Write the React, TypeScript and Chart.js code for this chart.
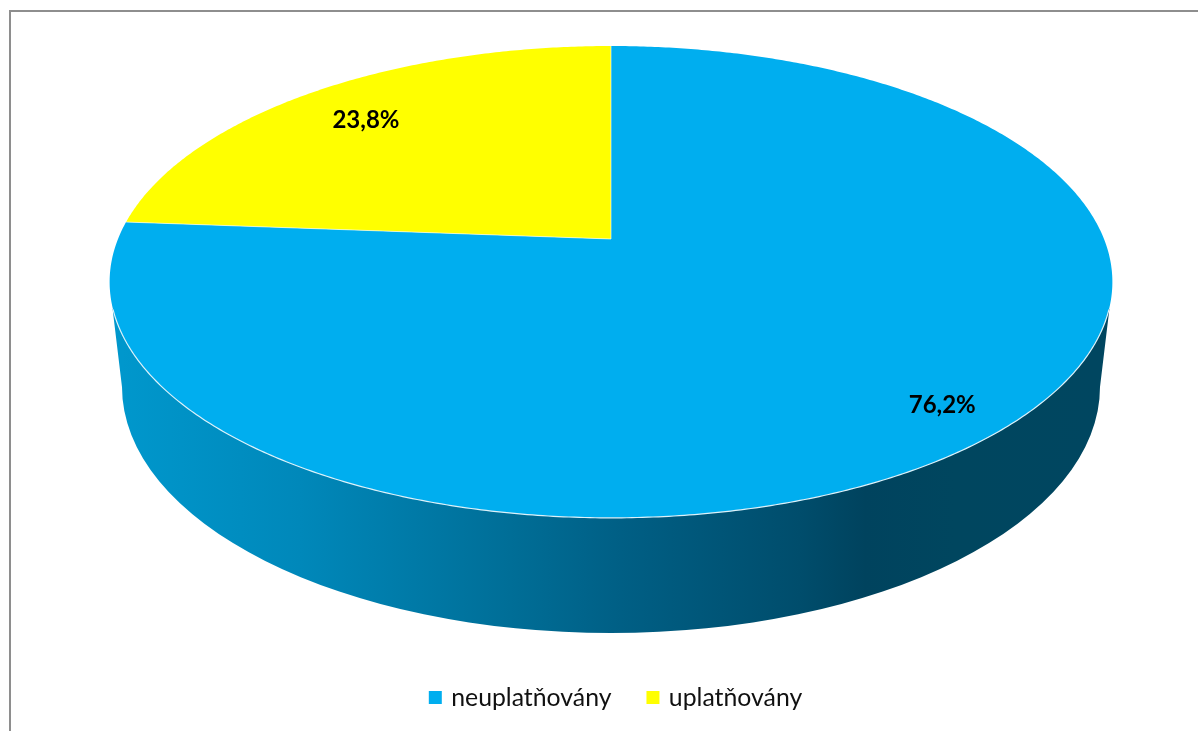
import React, { useEffect, useRef } from "react";
import { Chart, registerables } from "chart.js";

Chart.register(...registerables);

const categories = ["neuplatňovány", "uplatňovány"];
const shares = [76.2, 23.8];
const sliceColors = ["#00AEEF", "#FFFF00"];
const labelRadii = [0.873, 0.81];
const labelNudgeY = [1, 4];

// Perspective projection of the unit disc on to the page
const CX = 611;
const APEX_Y = 239;
const SCALE_X = 493;
const SCALE_Y = 184.6;
const PERSP = -0.182;

function project(X: number, Y: number): [number, number] {
  const w = 1 + PERSP * Y;
  return [CX + (SCALE_X * X) / w, (APEX_Y + SCALE_Y * Y) / w];
}

function traceArc(ctx: CanvasRenderingContext2D, a0: number, a1: number, moveFirst: boolean) {
  const n = Math.max(2, Math.ceil(Math.abs(a1 - a0) / (Math.PI / 360)));
  for (let i = 0; i <= n; i++) {
    const t = a0 + ((a1 - a0) * i) / n;
    const [x, y] = project(Math.cos(t), Math.sin(t));
    if (i === 0 && moveFirst) ctx.moveTo(x, y);
    else ctx.lineTo(x, y);
  }
}

const pie3d = {
  id: "pie3d",
  beforeDatasetDraw(chart: any, args: any) {
    const ctx: CanvasRenderingContext2D = chart.ctx;
    const arcs = args.meta.data;
    const ds = chart.data.datasets[args.index];
    ctx.save();

    // Side wall of the slice that faces the viewer
    const WALL_RX = 489;
    const WALL_CY = 387;
    const WALL_RY = 246;
    const grad = ctx.createLinearGradient(122, 0, 1100, 0);
    grad.addColorStop(0, "#0097CC");
    grad.addColorStop(0.182, "#0088BA");
    grad.addColorStop(0.397, "#006E97");
    grad.addColorStop(0.51, "#005F85");
    grad.addColorStop(0.693, "#004D6C");
    grad.addColorStop(0.76, "#00435E");
    grad.addColorStop(0.85, "#00465F");
    grad.addColorStop(1, "#004660");
    ctx.beginPath();
    ctx.moveTo(112.6, 309);
    ctx.lineTo(CX - WALL_RX, WALL_CY);
    ctx.ellipse(CX, WALL_CY, WALL_RX, WALL_RY, 0, Math.PI, 0, true);
    ctx.lineTo(1109.4, 309);
    ctx.lineTo(611, 300);
    ctx.closePath();
    ctx.fillStyle = grad;
    ctx.fill();

    // Top faces
    arcs.forEach((arc: any, i: number) => {
      ctx.beginPath();
      const [ax, ay] = project(0, 0);
      ctx.moveTo(ax, ay);
      traceArc(ctx, arc.startAngle, arc.endAngle, false);
      ctx.closePath();
      ctx.fillStyle = ds.backgroundColor[i];
      ctx.fill();
    });

    // Thin light edges
    arcs.forEach((arc: any) => {
      const [ax, ay] = project(0, 0);
      const [sx, sy] = project(Math.cos(arc.startAngle), Math.sin(arc.startAngle));
      ctx.beginPath();
      ctx.moveTo(ax, ay);
      ctx.lineTo(sx, sy);
      ctx.strokeStyle = "rgba(255,255,255,0.6)";
      ctx.lineWidth = 1;
      ctx.stroke();
    });
    const edgeStart = (17 * Math.PI) / 180;
    ctx.beginPath();
    traceArc(ctx, edgeStart, Math.PI - edgeStart, true);
    ctx.strokeStyle = "#DDF2FA";
    ctx.lineWidth = 1.2;
    ctx.stroke();

    // Value labels
    ctx.fillStyle = "#000";
    ctx.font = "bold 24px Lato";
    ctx.textAlign = "center";
    ctx.textBaseline = "middle";
    arcs.forEach((arc: any, i: number) => {
      const mid = (arc.startAngle + arc.endAngle) / 2;
      const [x, y] = project(labelRadii[i] * Math.cos(mid), labelRadii[i] * Math.sin(mid));
      ctx.fillText(shares[i].toFixed(1).replace(".", ",") + "%", x, y + labelNudgeY[i]);
    });
    ctx.restore();
    return false;
  },
};

export default function App() {
  const ref = useRef<HTMLCanvasElement>(null);
  useEffect(() => {
    const chart = new Chart(ref.current as HTMLCanvasElement, {
      type: "pie",
      data: {
        labels: categories,
        datasets: [{ data: shares, backgroundColor: sliceColors, borderColor: sliceColors, borderWidth: 6 }],
      },
      options: {
        animation: false,
        responsive: false,
        layout: { padding: { left: 36, bottom: 11 } },
        plugins: {
          tooltip: { enabled: false },
          legend: {
            position: "bottom",
            labels: {
              boxWidth: 7,
              boxHeight: 7,
              padding: 38,
              color: "#111",
              font: { family: "Lato", size: 24.8 },
            },
          },
        },
      },
      plugins: [pie3d],
    } as any);
    return () => chart.destroy();
  }, []);
  return (
    <div style={{ position: "fixed", left: 0, top: 0, width: 1198, height: 731, background: "#fff", overflow: "hidden" }}>
      <div
        style={{
          position: "absolute",
          left: 9,
          top: 10,
          width: 1189,
          height: 721,
          boxSizing: "border-box",
          borderLeft: "2px solid #8E8E8E",
          borderTop: "2px solid #8E8E8E",
        }}
      />
      <canvas ref={ref} width={1198} height={731} style={{ position: "absolute", left: 0, top: 0, display: "block" }} />
    </div>
  );
}
